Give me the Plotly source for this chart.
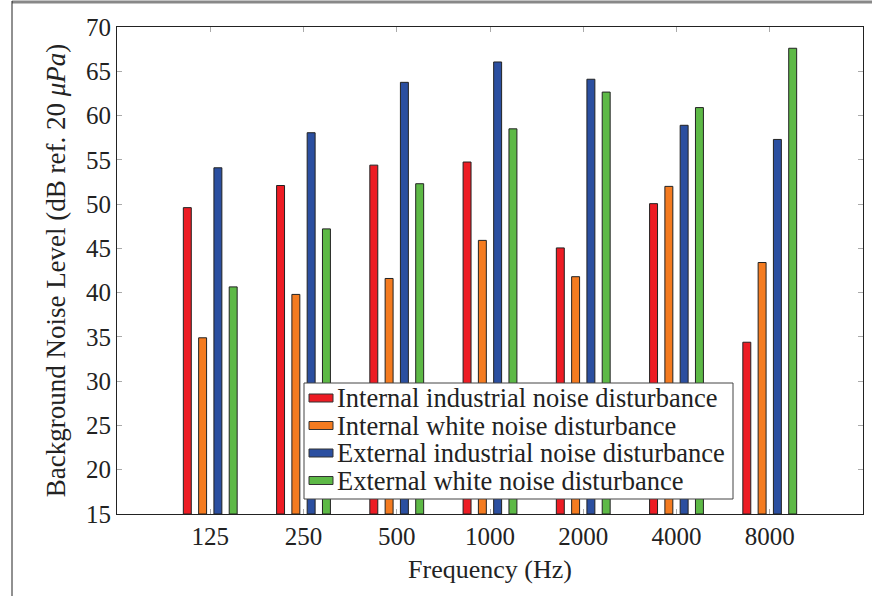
import plotly.graph_objects as go

frequencies = ["125", "250", "500", "1000", "2000", "4000", "8000"]
internal_industrial = [49.6, 52.1, 54.4, 54.75, 45.05, 50.05, 34.4]
internal_white = [34.9, 39.8, 41.6, 45.9, 41.8, 52.0, 43.4]
external_industrial = [54.1, 58.06, 63.75, 66.05, 64.1, 58.9, 57.3]
external_white = [40.65, 47.2, 52.3, 58.5, 62.65, 60.9, 67.6]

series_names = [
    "Internal industrial noise disturbance",
    "Internal white noise disturbance",
    "External industrial noise disturbance",
    "External white noise disturbance",
]
series_values = [internal_industrial, internal_white, external_industrial, external_white]
series_colors = ["#ED1C24", "#F47B20", "#2B4FA0", "#5DB946"]

FONT = "Liberation Serif"
TXT = "#222222"

fig = go.Figure()
for name, vals, col in zip(series_names, series_values, series_colors):
    fig.add_trace(go.Bar(
        x=frequencies, y=[v - 15 for v in vals], base=15, name=name,
        marker=dict(color=col, line=dict(color="#222222", width=1)),
        showlegend=False,
    ))

W, H = 872, 596
L, R, T, B = 117, 9, 27, 82
pw, ph = W - L - R, H - T - B

def px(x):
    return (x - L) / pw

def py(y):
    return (H - B - y) / ph

shapes = [
    dict(type="line", xref="paper", yref="paper",
         x0=px(12), x1=px(872), y0=py(2), y1=py(2),
         line=dict(color="#888888", width=3)),
    dict(type="line", xref="paper", yref="paper",
         x0=px(12), x1=px(12), y0=py(1), y1=py(596),
         line=dict(color="#222222", width=1)),
    # legend box
    dict(type="rect", xref="paper", yref="paper", layer="above",
         x0=px(304), x1=px(733), y0=py(499), y1=py(383),
         fillcolor="white", line=dict(color="#444444", width=1)),
]
annotations = []
row_centers = [398, 425.5, 453, 480.5]
for name, col, yc in zip(series_names, series_colors, row_centers):
    shapes.append(dict(type="rect", xref="paper", yref="paper", layer="above",
                       x0=px(309), x1=px(333), y0=py(yc + 4), y1=py(yc - 4),
                       fillcolor=col, line=dict(color="#333333", width=1)))
    annotations.append(dict(xref="paper", yref="paper", x=px(335), y=py(yc),
                            xanchor="left", yanchor="middle", showarrow=False,
                            text=name, font=dict(family=FONT, size=26.5, color=TXT)))

fig.update_layout(
    width=W, height=H,
    margin=dict(l=L, r=R, t=T, b=B),
    paper_bgcolor="white", plot_bgcolor="white",
    barmode="group", bargap=0.344, bargroupgap=0.48,
    font=dict(family=FONT, size=20, color=TXT),
    showlegend=False,
    xaxis=dict(
        type="category", range=[-1, 7],
        showline=True, linecolor="#222222", linewidth=1, mirror="ticks",
        ticks="inside", ticklen=5, tickcolor="#AAAAAA",
        showgrid=False, zeroline=False,
        tickfont=dict(family=FONT, size=25, color=TXT),
        title=dict(text="Frequency (Hz)", font=dict(family=FONT, size=26, color=TXT), standoff=10),
    ),
    yaxis=dict(
        range=[15, 70], tickvals=list(range(15, 71, 5)),
        showline=True, linecolor="#222222", linewidth=1, mirror="ticks",
        ticks="inside", ticklen=5, tickcolor="#AAAAAA",
        showgrid=False, zeroline=False,
        tickfont=dict(family=FONT, size=25, color=TXT),
        title=dict(text="Background Noise Level (dB ref. 20 <i>μPa</i>)",
                   font=dict(family=FONT, size=27, color=TXT), standoff=12),
    ),
    shapes=shapes,
    annotations=annotations,
)

fig.write_html("out.html", config={"displayModeBar": False},
               post_script="document.body.style.margin='0';")
